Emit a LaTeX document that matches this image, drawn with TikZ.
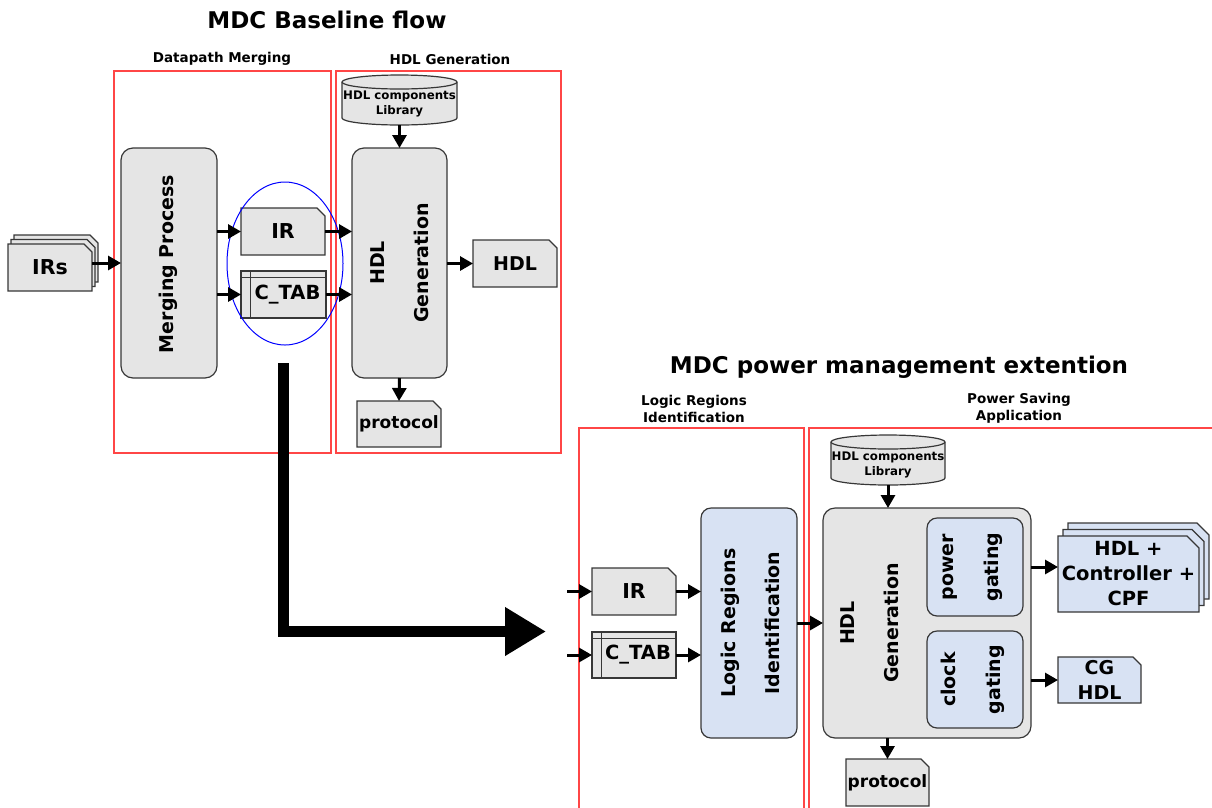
\documentclass[tikz,border=0pt]{standalone}
\usepackage{fontspec}
\setmainfont{DejaVu Sans}
\usetikzlibrary{arrows.meta,backgrounds,calc}
\definecolor{gfill}{RGB}{229,229,229}
\definecolor{bfill}{RGB}{216,226,243}
\definecolor{bord}{RGB}{55,55,55}
\definecolor{frame}{RGB}{255,70,70}
% document shape behind a named node: node, fill, corner, dx, dy
\newcommand\docbg[5]{%
  \path[draw=bord, line width=1.2pt, fill=#2]
    ([xshift=#4,yshift=#5]#1.south west) -- ([xshift=#4,yshift=#5]#1.north west)
    -- ([xshift=#4-#3,yshift=#5]#1.north east) -- ([xshift=#4,yshift=#5-#3]#1.north east)
    -- ([xshift=#4,yshift=#5]#1.south east) -- cycle;}
\begin{document}
\begin{tikzpicture}[x=1pt,y=-1pt,
  every node/.style={inner sep=0pt, outer sep=0pt},
  box/.style={rectangle, rounded corners=12pt, draw=bord, line width=1.2pt, fill=gfill},
  bbox/.style={box, fill=bfill, rounded corners=10pt},
  rtxt/.style={font=\fontsize{19}{44}\selectfont\bfseries, align=center, rotate=90},
  doc/.style={rectangle, font=\fontsize{19}{25}\selectfont\bfseries, align=center},
  bigdoc/.style={doc, font=\fontsize{20.5}{25}\selectfont\bfseries},
  ctab/.style={rectangle, draw=bord, line width=1.2pt, fill=gfill,
    font=\fontsize{19.5}{25}\selectfont\bfseries,
    path picture={
      \draw[draw=bord, line width=1pt] ([xshift=9pt]path picture bounding box.north west) -- ([xshift=9pt]path picture bounding box.south west);
      \draw[draw=bord, line width=1pt] ([yshift=-6pt]path picture bounding box.north west) -- ([yshift=-6pt]path picture bounding box.north east);}},
  cyl/.style={rectangle, font=\fontsize{11.8}{15}\selectfont\bfseries, align=center},
  ttl/.style={font=\fontsize{23}{28}\selectfont\bfseries},
  sec/.style={font=\fontsize{13.5}{17}\selectfont\bfseries, align=center},
  frm/.style={draw=frame, line width=1.2pt},
  arr/.style={line width=3pt, -{Triangle[length=13pt,width=14pt]}},
]
\useasboundingbox (0,0) rectangle (1212,807);

% ---------- titles ----------
\node[ttl] (t1) at (327,20) {MDC Baseline flow};
\node[sec] (s1) at (222,59) {Datapath Merging};
\node[sec] (s2) at (450,59) {HDL Generation};
\node[ttl] (t2) at (899,367) {MDC power management extention};
\node[sec] (s3) at (694,408.5) {Logic Regions\\Identification};
\node[sec] (s4) at (1019,408.5) {Power Saving\\Application};

% ---------- frames ----------
\draw[frm] (114,71) rectangle (331,453);
\draw[frm] (336,71) rectangle (561,453);
\draw[frm] (579,428) rectangle (804,812);
\draw[frm] (809,428) rectangle (1216,812);

% ---------- top flow ----------
\node[bigdoc, minimum width=84pt, minimum height=47pt] (irs) at (50,267.5) {IRs};
\node[box, minimum width=96pt, minimum height=230pt] (merge) at (169,263) {};
\node[rtxt] (mergeT) at (168,264) {Merging Process};
\node[bigdoc, minimum width=84pt, minimum height=47pt] (ir) at (283,231.5) {IR};
\node[ctab, minimum width=85pt, minimum height=47pt] (ctab) at (283.5,294.5) {\hspace{8pt}C\_TAB};
\draw[blue, line width=1pt] (285,263.5) ellipse [x radius=58, y radius=81.5];

\node[cyl, minimum width=115pt, minimum height=42pt] (lib1) at (399.5,104) {HDL components\\Library};
\node[box, minimum width=95pt, minimum height=230pt] (hdl1) at (399.5,263) {};
\node[rtxt] (hdl1T) at (399.5,263) {HDL\\Generation};
\node[doc, minimum width=84pt, minimum height=47pt] (hdlout) at (515,263.5) {HDL};
\node[doc, minimum width=84pt, minimum height=46pt, font=\fontsize{17}{20}\selectfont\bfseries] (prot1) at (399,424) {protocol};

\draw[arr] (irs.east |- merge.west) -- (merge.west);
\draw[arr] (merge.east |- ir.west) -- (ir.west);
\draw[arr] (merge.east |- ctab.west) -- (ctab.west);
\draw[arr] (ir.east) -- (hdl1.west |- ir.east);
\draw[arr] (ctab.east) -- (hdl1.west |- ctab.east);
\draw[arr] (lib1.south) -- (hdl1.north);
\draw[arr] (hdl1.east |- hdlout.west) -- (hdlout.west);
\draw[arr] (hdl1.south) -- (prot1.north);

% ---------- big arrow ----------
\coordinate (bigS) at (283,363);
\coordinate (bigE) at (546,631.5);
\draw[line width=11pt, line join=miter, -{Triangle[length=41pt,width=46pt]}] (bigS) |- (bigE);

% ---------- bottom flow ----------
\coordinate (in1) at (567,591.5);
\coordinate (in2) at (567,655);
\node[bigdoc, minimum width=84pt, minimum height=47pt] (ir2) at (634,591.5) {IR};
\node[ctab, minimum width=84pt, minimum height=46pt] (ctab2) at (634,655) {\hspace{8pt}C\_TAB};
\node[bbox, minimum width=96pt, minimum height=230pt] (lri) at (749,623) {};
\node[rtxt] (lriT) at (750,623) {Logic Regions\\Identification};

\node[cyl, minimum width=114pt, minimum height=41pt] (lib2) at (888,464.5) {HDL components\\Library};
\node[box, minimum width=208pt, minimum height=230pt] (hdl2) at (927,623) {};
\node[rtxt] (hdl2T) at (870,623) {HDL\\Generation};
\node[bbox, minimum width=96pt, minimum height=98pt] (pg) at (975,567) {};
\node[rtxt, font=\fontsize{19}{45}\selectfont\bfseries] (pgT) at (973,567) {power\\gating};
\node[bbox, minimum width=96pt, minimum height=97pt] (cg) at (975,679.5) {};
\node[rtxt, font=\fontsize{19}{45}\selectfont\bfseries] (cgT) at (973,679.5) {clock\\gating};

\node[doc, minimum width=141pt, minimum height=76pt, font=\fontsize{19.5}{25}\selectfont\bfseries] (out1) at (1128.5,574) {HDL +\\Controller +\\CPF};
\node[doc, minimum width=83pt, minimum height=46pt] (cgout) at (1099.5,680) {CG\\HDL};
\node[doc, minimum width=83pt, minimum height=47pt, font=\fontsize{17}{20}\selectfont\bfseries] (prot2) at (887.5,782.5) {protocol};

\draw[arr] (in1) -- (ir2.west);
\draw[arr] (in2) -- (ctab2.west);
\draw[arr] (ir2.east) -- (lri.west |- ir2.east);
\draw[arr] (ctab2.east) -- (lri.west |- ctab2.east);
\draw[arr] (lri.east) -- (hdl2.west |- lri.east);
\draw[arr] (lib2.south) -- (lib2.south |- hdl2.north);
\draw[arr] (hdl2.east |- pg.east) -- (out1.west |- pg.east);
\draw[arr] (hdl2.east |- cgout.west) -- (cgout.west);
\draw[arr] (hdl2.south -| prot2.north) -- (prot2.north);

% ---------- background shapes ----------
\begin{pgfonlayer}{background}
  \docbg{irs}{gfill}{8pt}{6pt}{9pt}
  \docbg{irs}{gfill}{8pt}{3pt}{4.5pt}
  \docbg{irs}{gfill}{8pt}{0pt}{0pt}
  \docbg{ir}{gfill}{8pt}{0pt}{0pt}
  \docbg{hdlout}{gfill}{8pt}{0pt}{0pt}
  \docbg{prot1}{gfill}{8pt}{0pt}{0pt}
  \docbg{ir2}{gfill}{8pt}{0pt}{0pt}
  \docbg{prot2}{gfill}{8pt}{0pt}{0pt}
  \docbg{cgout}{bfill}{8pt}{0pt}{0pt}
  \docbg{out1}{bfill}{12pt}{10pt}{13pt}
  \docbg{out1}{bfill}{12pt}{5pt}{6.5pt}
  \docbg{out1}{bfill}{12pt}{0pt}{0pt}
  % cylinders
  \path[draw=bord, fill=gfill, line width=1.2pt] (342,82) -- (342,118)
    arc[start angle=180, end angle=0, x radius=57.5, y radius=7] -- (457,82)
    arc[start angle=0, end angle=-180, x radius=57.5, y radius=7] -- cycle;
  \draw[draw=bord, line width=1.2pt] (342,82) arc[start angle=180, end angle=0, x radius=57.5, y radius=7];
  \path[draw=bord, fill=gfill, line width=1.2pt] (831,442) -- (831,478)
    arc[start angle=180, end angle=0, x radius=57, y radius=7] -- (945,442)
    arc[start angle=0, end angle=-180, x radius=57, y radius=7] -- cycle;
  \draw[draw=bord, line width=1.2pt] (831,442) arc[start angle=180, end angle=0, x radius=57, y radius=7];
\end{pgfonlayer}
\end{tikzpicture}
\end{document}
